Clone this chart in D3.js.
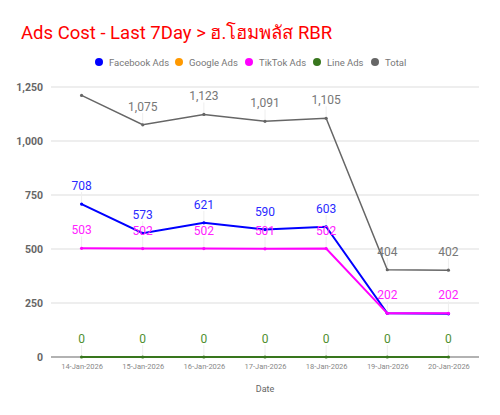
<!DOCTYPE html>
<html>
<head>
<meta charset="utf-8">
<script src="https://cdn.jsdelivr.net/npm/d3@7"></script>
<style>
  body { margin: 0; background: #fff; }
  text { font-family: Roboto, "Noto Sans", sans-serif; }
</style>
</head>
<body>
<svg width="500" height="415"></svg>
<script>
// data
let dates = ['14-Jan-2026', '15-Jan-2026', '16-Jan-2026', '17-Jan-2026', '18-Jan-2026', '19-Jan-2026', '20-Jan-2026']
let facebook = [708, 573, 621, 590, 603, 202, 200]
let google = [null, null, null, null, null, null, null]
let tiktok = [503, 502, 502, 501, 502, 202, 202]
let lineAds = [0, 0, 0, 0, 0, 0, 0]
let total = [1211, 1075, 1123, 1091, 1105, 404, 402]
let yTicks = [0, 250, 500, 750, 1000, 1250]

let series = [
	{name: 'Facebook Ads', values: facebook, color: '#0000ff', label: '#2a2aff'},
	{name: 'Google Ads', values: google, color: '#ff9900', label: '#ff9900'},
	{name: 'TikTok Ads', values: tiktok, color: '#ff00ff', label: '#ff22ff'},
	{name: 'Line Ads', values: lineAds, color: '#38761d', label: '#4f8f2f'},
	{name: 'Total', values: total, color: '#666666', label: '#777777'}
]

let svg = d3.select('svg')
let m = {l: 51, r: 479, t: 87, b: 357}

let x = d3.scalePoint().domain(dates).range([m.l, m.r]).padding(0.5)
let y = d3.scaleLinear().domain([0, 1250]).range([m.b, m.t])

// title
svg.append('text')
	.attr('x', 21).attr('y', 39)
	.style('font-size', '18.5px').style('fill', '#ff0000')
	.text('Ads Cost - Last 7Day > ฮ.โฮมพลัส RBR')

// legend
let lx = [99, 179, 249, 317, 375]
let legend = svg.append('g')
series.forEach((s, i) => {
	legend.append('circle')
		.attr('cx', lx[i]).attr('cy', 62).attr('r', 4)
		.attr('fill', s.color)
	legend.append('text')
		.attr('x', lx[i] + 10).attr('y', 65.5)
		.style('font-size', '9.5px').style('fill', '#777')
		.text(s.name)
})

// grid
svg.append('g').selectAll('line')
	.data(yTicks.filter(d => d > 0))
	.join('line')
	.attr('x1', m.l).attr('x2', m.r)
	.attr('y1', d => y(d)).attr('y2', d => y(d))
	.attr('stroke', '#dddddd').attr('stroke-width', 1)

svg.append('line')
	.attr('x1', m.l).attr('x2', m.r)
	.attr('y1', y(0)).attr('y2', y(0))
	.attr('stroke', '#999').attr('stroke-width', 1.5)

// y axis
let yAxis = svg.append('g')
	.attr('transform', `translate(${m.l - 5},0)`)
	.call(d3.axisLeft(y).tickValues(yTicks).tickSize(0).tickFormat(d3.format(',')))
yAxis.select('.domain').remove()
yAxis.selectAll('text')
	.style('font-size', '10.5px').style('font-weight', 'bold').style('fill', '#666')

// x axis
let xAxis = svg.append('g')
	.attr('transform', `translate(0,${m.b + 4})`)
	.call(d3.axisBottom(x).tickSize(0))
xAxis.select('.domain').remove()
xAxis.selectAll('text')
	.style('font-size', '7.5px').style('fill', '#888')

svg.append('text')
	.attr('x', 265).attr('y', 392)
	.attr('text-anchor', 'middle')
	.style('font-size', '9px').style('fill', '#666')
	.text('Date')

// label guide lines
let guides = svg.append('g')
let marks = svg.append('g')
let labels = svg.append('g')

let lineGen = d3.line()
	.defined(d => d != null)
	.x((d, i) => x(dates[i]))
	.y(d => y(d))

series.forEach(s => {
	if (s.values.every(v => v == null)) return

	marks.append('path')
		.datum(s.values)
		.attr('d', lineGen)
		.attr('fill', 'none')
		.attr('stroke', s.color)
		.attr('stroke-width', s.name == 'Total' ? 1.5 : 2)

	marks.append('g').selectAll('circle')
		.data(s.values)
		.join('circle')
		.attr('cx', (d, i) => x(dates[i])).attr('cy', d => y(d))
		.attr('r', 1.6)
		.attr('fill', s.color)

	s.values.forEach((v, i) => {
		let ly = y(v) - 14
		if (ly - 10 < m.t - 5) return
		if (s.name == 'Facebook Ads' && Math.abs(v - tiktok[i]) < 10) return
		guides.append('line')
			.attr('x1', x(dates[i])).attr('x2', x(dates[i]))
			.attr('y1', ly + 2).attr('y2', y(v))
			.attr('stroke', '#eeeeee').attr('stroke-width', 1)
		labels.append('text')
			.attr('x', x(dates[i])).attr('y', ly)
			.attr('text-anchor', 'middle')
			.style('font-size', '12px').style('fill', s.label)
			.text(d3.format(',')(v))
	})
})
</script>
</body>
</html>
